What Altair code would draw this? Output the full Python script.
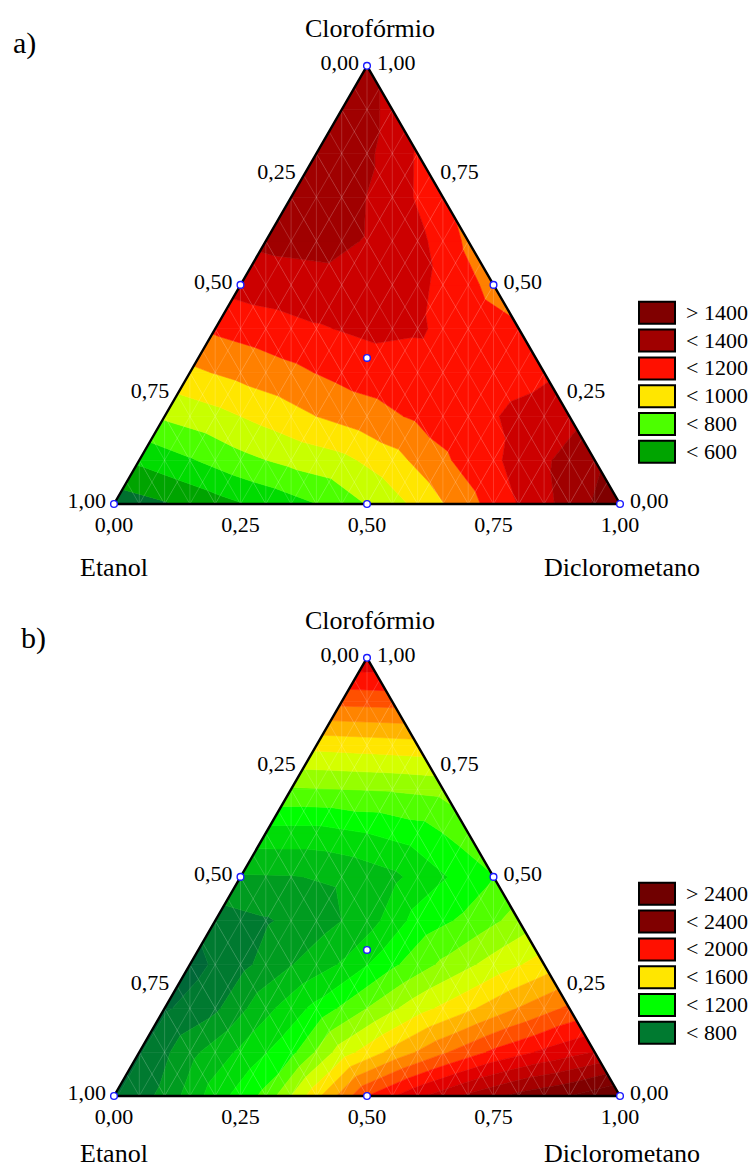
import math
import altair as alt

SQ3 = math.sqrt(3.0)

# ---------------------------------------------------------------------------
# Response surfaces on a ternary grid with step 0.1.
# GRID[j][i]: Clorofórmio = j/10, Diclorometano = i/10, Etanol = 1 - (i+j)/10
# ---------------------------------------------------------------------------
GRID_A = [
    [440, 490, 559, 628, 699, 804, 924, 1067, 1205, 1340, 1480],
    [620, 690, 770, 828, 873, 962, 1083, 1182, 1286, 1375],
    [814, 867, 933, 1000, 1059, 1116, 1168, 1220, 1269],
    [980, 1029, 1076, 1130, 1160, 1165, 1160, 1183],
    [1116, 1153, 1190, 1220, 1210, 1160, 1110],
    [1238, 1260, 1270, 1260, 1179, 1070],
    [1320, 1330, 1295, 1230, 1080],
    [1340, 1340, 1256, 1120],
    [1360, 1320, 1190],
    [1360, 1280],
    [1320],
]
GRID_B = [
    [690, 830, 1050, 1230, 1570, 1900, 2080, 2220, 2330, 2400, 2500],
    [690, 870, 1020, 1170, 1450, 1630, 1785, 1920, 2020, 2105],
    [685, 780, 970, 1130, 1300, 1460, 1580, 1705, 1820],
    [660, 770, 895, 1010, 1180, 1320, 1440, 1545],
    [750, 790, 850, 950, 1140, 1225, 1340],
    [890, 895, 915, 975, 1090, 1195],
    [1060, 1060, 1100, 1150, 1250],
    [1290, 1300, 1310, 1330],
    [1530, 1545, 1560],
    [1830, 1840],
    [2080],
]

# contour levels and band colours (lowest band first)
LEVELS_A = [500, 600, 700, 800, 900, 1000, 1100, 1200, 1300, 1400]
COLORS_A = ["#00702f", "#00a400", "#00dc00", "#4cff00", "#c8ff00", "#ffe600",
            "#ff8000", "#ff1000", "#cc0000", "#a00000", "#800000"]
LEGEND_A = ["> 1400", "< 1400", "< 1200", "< 1000", "< 800", "< 600"]

LEVELS_B = [700, 800, 900, 1000, 1100, 1200, 1300, 1400, 1500, 1600, 1700,
            1800, 1900, 2000, 2100, 2200, 2300, 2400]
COLORS_B = ["#006838", "#007a30", "#009c20", "#00bc14", "#00dc08", "#00ff00",
            "#50ff00", "#96ff00", "#d4ff00", "#ffe600", "#ffb400", "#ff8400",
            "#ff5000", "#ff1000", "#e00000", "#c20000", "#a40000", "#800000",
            "#700000"]
LEGEND_B = ["> 2400", "< 2400", "< 2000", "< 1600", "< 1200", "< 800"]

# design points (Diclorometano, Clorofórmio)
DESIGN = [(0, 0), (1, 0), (0, 1), (0.5, 0), (0, 0.5), (0.5, 0.5), (1 / 3, 1 / 3)]

TICKS = [0.0, 0.25, 0.5, 0.75, 1.0]
TICK_TEXT = ["0,00", "0,25", "0,50", "0,75", "1,00"]

PANELS = ["a", "b"]

# ---------------------------------------------------------------------------
# layout (pixels)
# ---------------------------------------------------------------------------
W, H = 753, 1169
SIDE = 506.0            # triangle side
X0, Y0 = 114.0, 504.0   # bottom-left corner of the first triangle
PANEL_DY = {"a": 0.0, "b": 592.0}
LEGEND_DY = {"a": 247.0, "b": 236.0}   # first legend row below the apex
LETTER_OFF = {"a": (-354.0, -22.0), "b": (-346.0, -19.0)}
NAME_DY = {"a": 64.0, "b": 58.0}
FONT = "'Liberation Serif', 'Times New Roman', serif"


def tern(d, c, panel):
    """ternary (Diclorometano, Clorofórmio) -> projection units"""
    return d + c / 2.0, c * SQ3 / 2.0 - PANEL_DY[panel] / SIDE


def shift(pt, dx, dy):
    return pt[0] + dx / SIDE, pt[1] - dy / SIDE


def band_labels(levels):
    return ["< %d" % v for v in levels] + ["> %d" % levels[-1]]


def clip(poly, level, keep_above):
    out = []
    n = len(poly)
    for k in range(n):
        a, b = poly[k], poly[(k + 1) % n]
        ina = a[2] >= level if keep_above else a[2] <= level
        inb = b[2] >= level if keep_above else b[2] <= level
        if ina:
            out.append(a)
        if ina != inb:
            t = (level - a[2]) / (b[2] - a[2])
            out.append((a[0] + t * (b[0] - a[0]), a[1] + t * (b[1] - a[1]), level))
    return out


def area(poly):
    s = 0.0
    for k in range(len(poly)):
        x1, y1 = poly[k][0], poly[k][1]
        x2, y2 = poly[(k + 1) % len(poly)][0], poly[(k + 1) % len(poly)][1]
        s += x1 * y2 - x2 * y1
    return abs(s) / 2.0


def band_features(grid, levels, panel):
    n = len(grid) - 1
    labels = band_labels(levels)

    def node(i, j):
        x, y = tern(i / n, j / n, panel)
        return (x, y, float(grid[j][i]))

    tris = []
    for j in range(n):
        for i in range(n - j):
            tris.append([node(i, j), node(i + 1, j), node(i, j + 1)])
            if i + j <= n - 2:
                tris.append([node(i + 1, j), node(i + 1, j + 1), node(i, j + 1)])

    bounds = [None] + list(levels) + [None]
    feats = []
    for tri in tris:
        for k in range(len(bounds) - 1):
            poly = tri
            if bounds[k] is not None:
                poly = clip(poly, bounds[k], True)
            if len(poly) >= 3 and bounds[k + 1] is not None:
                poly = clip(poly, bounds[k + 1], False)
            if len(poly) < 3 or area(poly) < 1e-8:
                continue
            ring = [[round(p[0], 5), round(p[1], 5)] for p in poly]
            ring.append(ring[0])
            feats.append({"type": "Feature",
                          "properties": {"key": panel + " " + labels[k]},
                          "geometry": {"type": "Polygon", "coordinates": [ring]}})
    return feats


surface = band_features(GRID_A, LEVELS_A, "a") + band_features(GRID_B, LEVELS_B, "b")

color_domain = (["a " + s for s in band_labels(LEVELS_A)] +
                ["b " + s for s in band_labels(LEVELS_B)])
color_range = COLORS_A + COLORS_B
color_scale = alt.Scale(domain=color_domain, range=color_range)

# fine triangulation mesh drawn over the surface
mesh = []
STEP = 20
for panel in PANELS:
    for k in range(1, STEP):
        t = k / STEP
        segs = [
            (tern(t, 0, panel), tern(t, 1 - t, panel)),          # constant Diclorometano
            (tern(0, 1 - t, panel), tern(1 - t, 0, panel)),      # constant Etanol
        ]
        x = t
        top = min(x, 1 - x) * SQ3
        segs.append(((x, -PANEL_DY[panel] / SIDE), (x, top - PANEL_DY[panel] / SIDE)))
        for a, b in segs:
            mesh.append({"type": "Feature", "properties": {},
                         "geometry": {"type": "LineString",
                                      "coordinates": [[a[0], a[1]], [b[0], b[1]]]}})

outline = []
for panel in PANELS:
    ring = [tern(0, 0, panel), tern(1, 0, panel), tern(0, 1, panel), tern(0, 0, panel)]
    outline.append({"type": "Feature", "properties": {},
                    "geometry": {"type": "LineString",
                                 "coordinates": [[p[0], p[1]] for p in ring]}})

points = []
for panel in PANELS:
    for d, c in DESIGN:
        lon, lat = tern(d, c, panel)
        points.append({"lon": lon, "lat": lat})

# legend boxes and texts
legend_boxes, legend_text = [], []
for panel, entries in (("a", LEGEND_A), ("b", LEGEND_B)):
    apex = tern(0, 1, panel)
    for r, lab in enumerate(entries):
        cy = LEGEND_DY[panel] + 27.8 * r
        cx = 290.0
        c0 = shift(apex, cx - 18, cy - 11)
        c1 = shift(apex, cx + 18, cy + 11)
        ring = [[c0[0], c0[1]], [c1[0], c0[1]], [c1[0], c1[1]], [c0[0], c1[1]], [c0[0], c0[1]]]
        legend_boxes.append({"type": "Feature", "properties": {"key": panel + " " + lab},
                             "geometry": {"type": "Polygon", "coordinates": [ring]}})
        lon, lat = shift(apex, 319, cy)
        legend_text.append({"lon": lon, "lat": lat, "text": lab})

# axis labels
left_txt, right_txt, center_txt, title_c, title_l, title_r, letters = [], [], [], [], [], [], []
for panel in PANELS:
    for t, s in zip(TICKS, TICK_TEXT):
        lon, lat = shift(tern(0, 1 - t, panel), -8, -3)
        left_txt.append({"lon": lon, "lat": lat, "text": s})
        lon, lat = shift(tern(1 - t, t, panel), 10, -3)
        right_txt.append({"lon": lon, "lat": lat, "text": s})
        lon, lat = shift(tern(t, 0, panel), 0, 21)
        center_txt.append({"lon": lon, "lat": lat, "text": s})
    lon, lat = shift(tern(0, 1, panel), 3, -37)
    title_c.append({"lon": lon, "lat": lat, "text": "Clorofórmio"})
    lon, lat = shift(tern(0, 0, panel), -34, NAME_DY[panel])
    title_l.append({"lon": lon, "lat": lat, "text": "Etanol"})
    lon, lat = shift(tern(1, 0, panel), 80, NAME_DY[panel])
    title_r.append({"lon": lon, "lat": lat, "text": "Diclorometano"})
    dx, dy = LETTER_OFF[panel]
    lon, lat = shift(tern(0, 1, panel), dx, dy)
    letters.append({"lon": lon, "lat": lat, "text": panel + ")"})

proj = dict(type="identity", scale=SIDE, translate=[X0, Y0], reflectY=True)


def geo(values):
    return alt.Chart(alt.Data(values=values)).project(**proj)


def text_layer(values, align, size):
    return (alt.Chart(alt.Data(values=values))
            .mark_text(font=FONT, fontSize=size, align=align, baseline="middle", color="black")
            .encode(longitude="lon:Q", latitude="lat:Q", text="text:N")
            .project(**proj))


surface_layer = geo(surface).mark_geoshape(strokeWidth=0.6).encode(
    color=alt.Color("properties.key:N", scale=color_scale, legend=None),
    stroke=alt.Stroke("properties.key:N", scale=color_scale, legend=None),
)
mesh_layer = geo(mesh).mark_geoshape(filled=False, stroke="white", strokeWidth=0.7,
                                     strokeOpacity=0.24)
outline_layer = geo(outline).mark_geoshape(filled=False, stroke="black", strokeWidth=2.4)
points_layer = (alt.Chart(alt.Data(values=points))
                .mark_point(shape="circle", filled=True, fill="white", stroke="#1a1aff",
                            strokeWidth=1.4, size=45, opacity=1)
                .encode(longitude="lon:Q", latitude="lat:Q")
                .project(**proj))
legend_layer = geo(legend_boxes).mark_geoshape(stroke="black", strokeWidth=2).encode(
    color=alt.Color("properties.key:N", scale=color_scale, legend=None)
)

chart = alt.layer(
    surface_layer,
    mesh_layer,
    outline_layer,
    points_layer,
    legend_layer,
    text_layer(legend_text, "left", 22),
    text_layer(left_txt, "right", 22),
    text_layer(right_txt, "left", 22),
    text_layer(center_txt, "center", 22),
    text_layer(title_c, "center", 26),
    text_layer(title_l, "left", 26),
    text_layer(title_r, "right", 26),
    text_layer(letters, "left", 30),
).properties(
    width=W, height=H, autosize=alt.AutoSizeParams(type="none"), padding=0,
    background="white",
).configure_view(stroke=None)

chart.save("out.html", embed_options={"renderer": "svg", "actions": False})
